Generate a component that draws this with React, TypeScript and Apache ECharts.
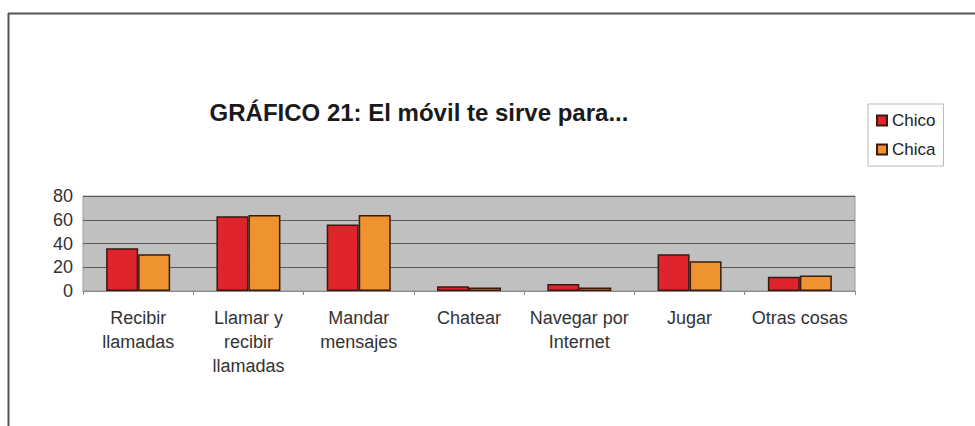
import React, { useEffect, useRef } from "react";
import * as echarts from "echarts";

const categories = [
  "Recibir\nllamadas",
  "Llamar y\nrecibir\nllamadas",
  "Mandar\nmensajes",
  "Chatear",
  "Navegar por\nInternet",
  "Jugar",
  "Otras cosas",
];
const chico = [36, 63, 56, 4, 6, 31, 12];
const chica = [31, 64, 64, 3, 3, 25, 13];
const yTicks = [0, 20, 40, 60, 80];

const FONT = "'Liberation Sans', Arial, sans-serif";

export default function App() {
  const ref = useRef<HTMLDivElement>(null);
  useEffect(() => {
    if (!ref.current) return;
    const chart = echarts.init(ref.current, null, { renderer: "svg" });
    chart.setOption({
      animation: false,
      backgroundColor: "#ffffff",
      textStyle: { fontFamily: FONT },
      title: {
        text: "GRÁFICO 21: El móvil te sirve para...",
        left: 414,
        textAlign: "center",
        top: 95,
        textStyle: { fontFamily: FONT, fontSize: 24, fontWeight: "bold", color: "#1a1a1a" },
      },
      legend: {
        orient: "vertical",
        left: 868,
        top: 104,
        padding: [8, 8, 8, 8],
        itemGap: 12,
        itemWidth: 10,
        itemHeight: 10,
        icon: "rect",
        borderColor: "#bbbbbb",
        borderWidth: 1,
        textStyle: { fontFamily: FONT, fontSize: 17, color: "#222", padding: [0, 0, 0, 0] },
        data: ["Chico", "Chica"],
      },
      grid: {
        left: 83,
        right: 120,
        top: 196,
        bottom: 135,
        show: true,
        backgroundColor: "#c0c0c0",
        borderColor: "#9a9a9a",
        borderWidth: 1,
      },
      xAxis: {
        type: "category",
        data: categories,
        axisLine: { show: true, lineStyle: { color: "#8a8a8a", width: 1 } },
        axisTick: { show: true, length: 4, lineStyle: { color: "#8a8a8a" } },
        axisLabel: {
          color: "#333",
          fontFamily: FONT,
          fontSize: 18,
          lineHeight: 24,
          margin: 15,
          interval: 0,
        },
      },
      yAxis: {
        type: "value",
        min: 0,
        max: yTicks[yTicks.length - 1],
        interval: 20,
        axisLine: { show: false },
        axisTick: { show: false },
        splitLine: { show: true, lineStyle: { color: "#5a5a5a", width: 1 } },
        axisLabel: {
          color: "#333",
          fontFamily: FONT,
          fontSize: 18,
          margin: 10,
        },
      },
      series: [
        {
          name: "Chico",
          type: "bar",
          data: chico,
          barWidth: 32,
          barGap: "0%",
          itemStyle: { color: "#e0242c", borderColor: "#3a1a10", borderWidth: 1.5 },
        },
        {
          name: "Chica",
          type: "bar",
          data: chica,
          barWidth: 32,
          barGap: "0%",
          itemStyle: { color: "#ef9330", borderColor: "#3a1a10", borderWidth: 1.5 },
        },
      ],
      graphic: [
        {
          type: "line",
          shape: { x1: 8, y1: 13.5, x2: 975, y2: 13.5 },
          style: { stroke: "#555", lineWidth: 2 },
        },
        {
          type: "line",
          shape: { x1: 8.5, y1: 13, x2: 8.5, y2: 426 },
          style: { stroke: "#555", lineWidth: 2 },
        },
      ],
    });
    return () => chart.dispose();
  }, []);
  return (
    <div
      ref={ref}
      style={{ position: "fixed", left: 0, top: 0, width: 975, height: 426 }}
    />
  );
}
